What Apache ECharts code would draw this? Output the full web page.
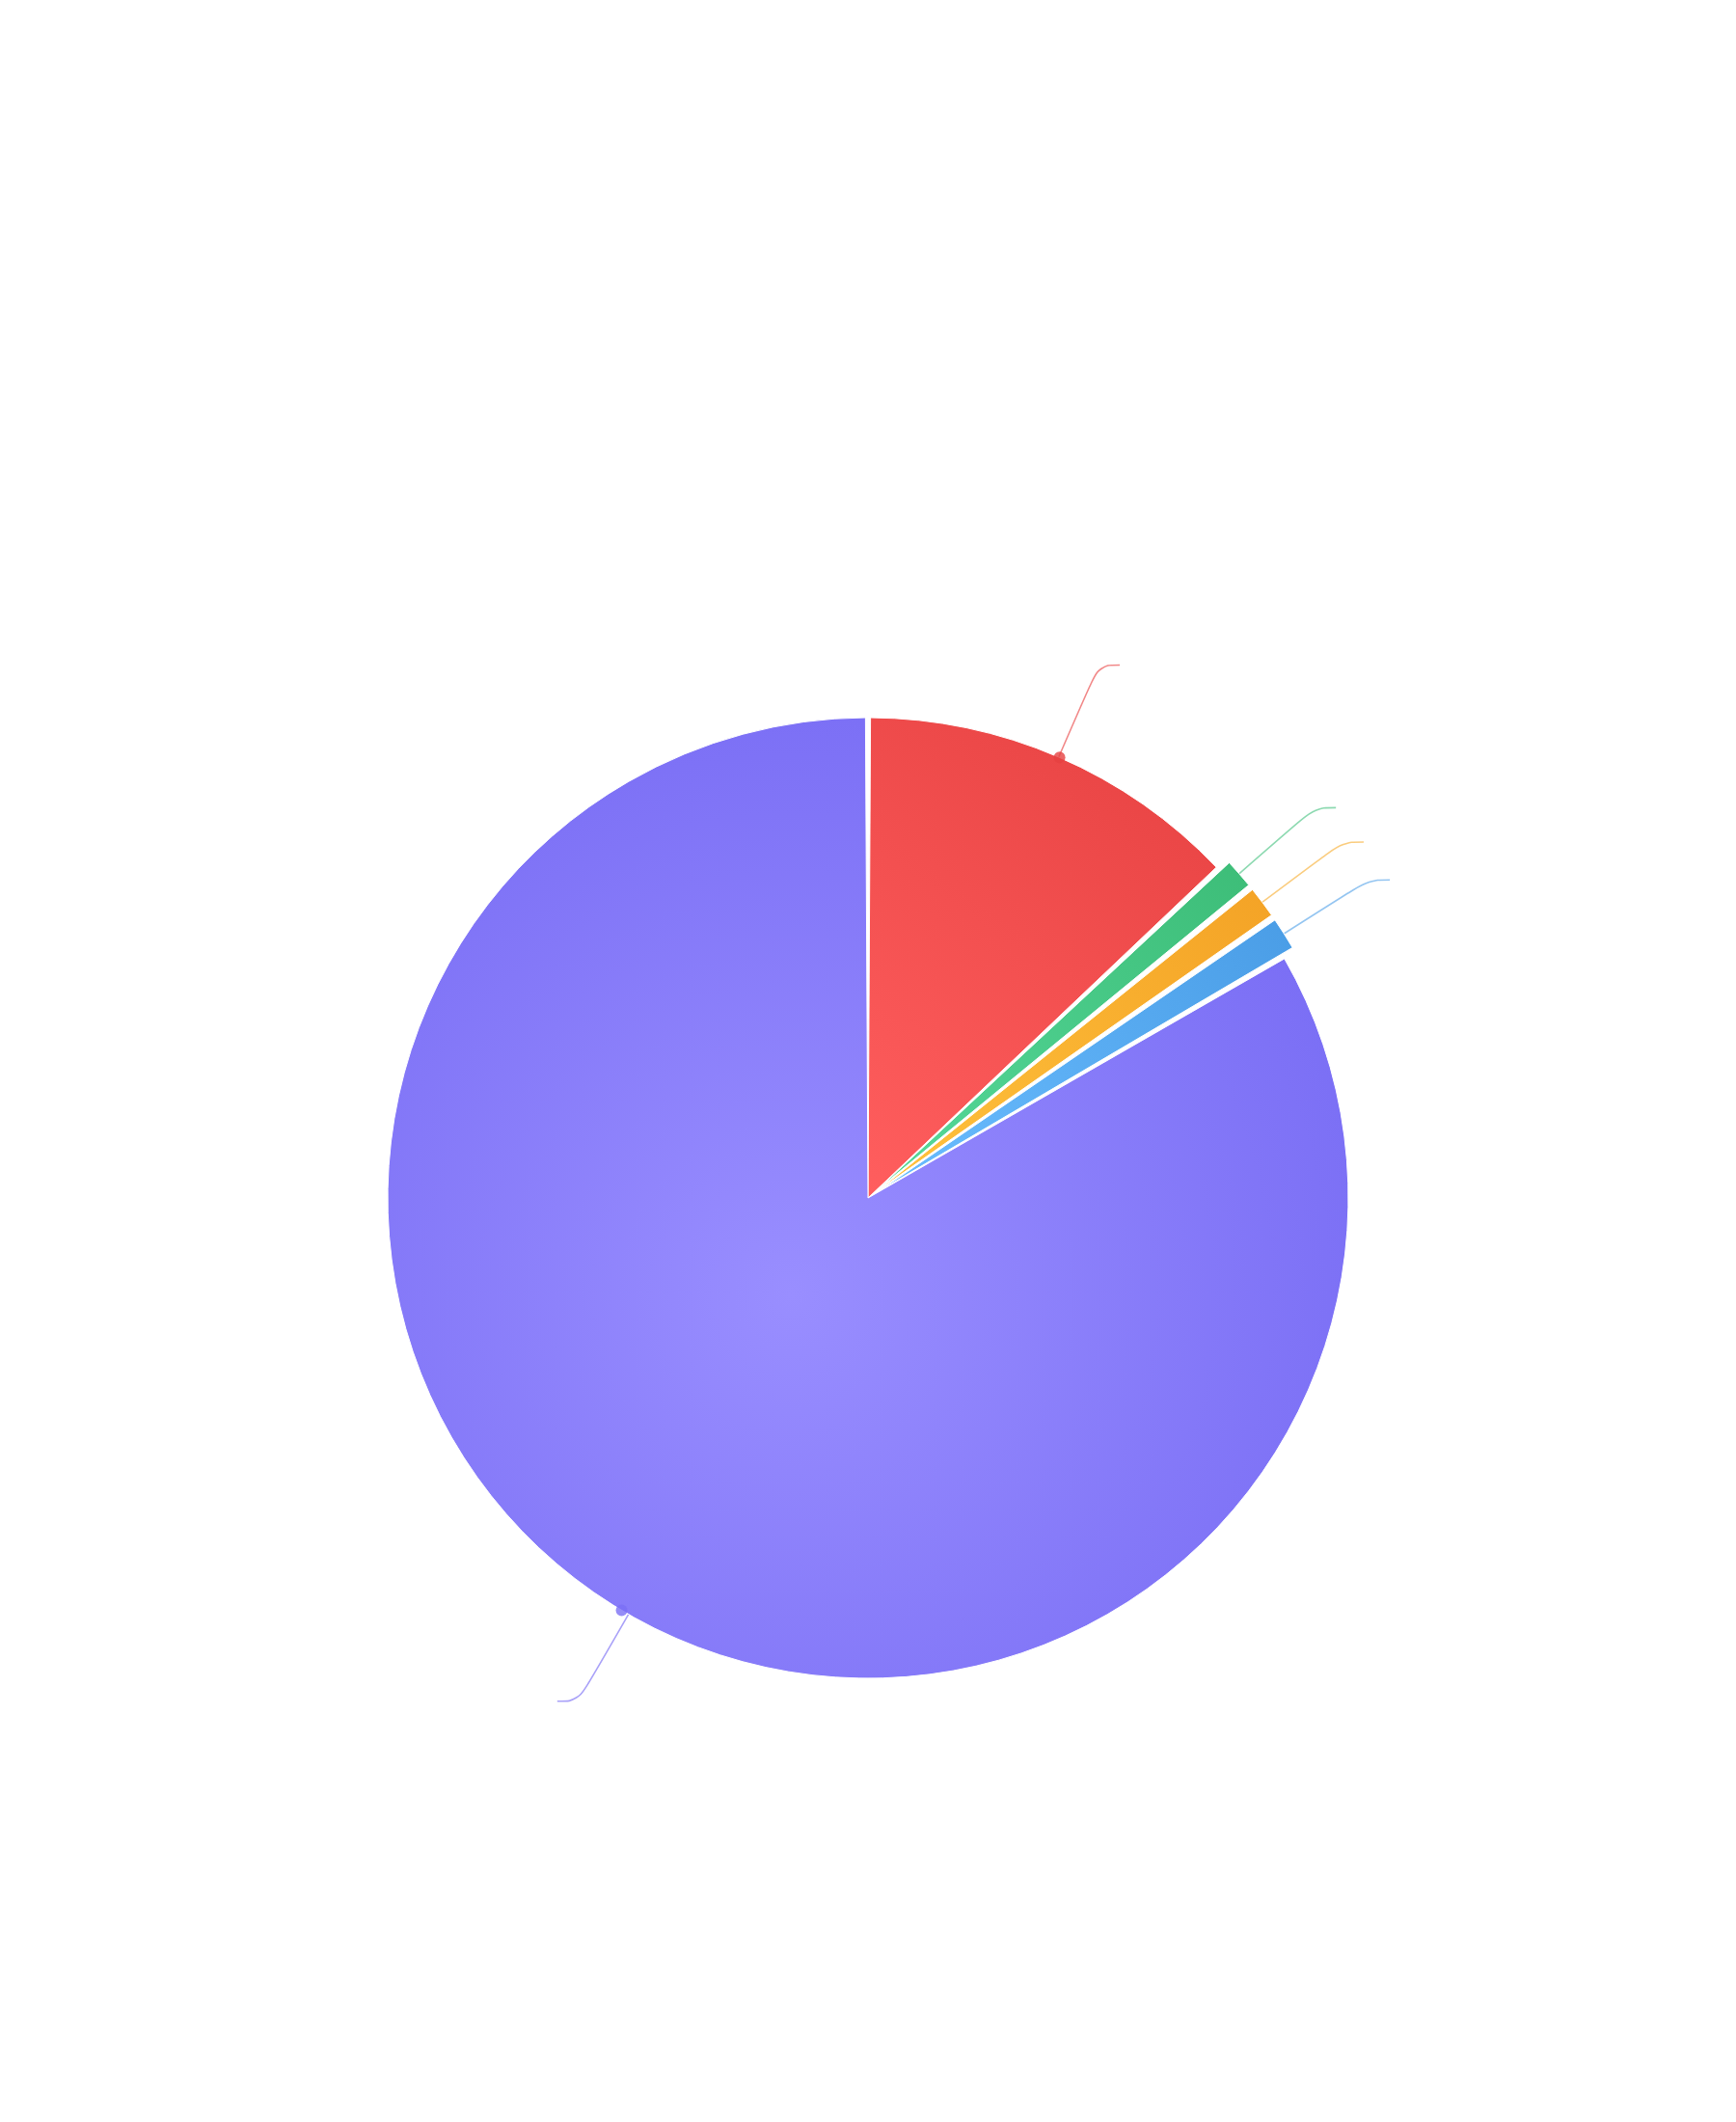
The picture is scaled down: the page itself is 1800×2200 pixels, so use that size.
<!DOCTYPE html>
<html>
<head>
<meta charset="utf-8">
<script src="https://cdn.jsdelivr.net/npm/echarts@6/dist/echarts.min.js"></script>
<style>
  html, body { margin: 0; padding: 0; background: #fff; }
  #chart { width: 1800px; height: 2200px; }
</style>
</head>
<body>
<div id="chart"></div>
<script>
// slices, clockwise from 12 o'clock
const categories = ['Category A', 'Category B', 'Category C', 'Category D', 'Category E']
const values = [130, 11.5, 12.2, 12.5, 834]
const raised = ['Category B', 'Category C', 'Category D']

const lightColors = ['#ff5e5e', '#56d99a', '#ffc23d', '#6abdff', '#998eff']
const darkColors = ['#e64141', '#3dbd78', '#f4a326', '#4a9de6', '#7b6ff5']
const lineColors = ['rgba(234,70,70,0.65)', 'rgba(64,192,124,0.6)', 'rgba(246,170,40,0.6)', 'rgba(76,158,232,0.6)', 'rgba(123,111,245,0.65)']

const radius = 498
const offset = 13
const padAngle = 0.6
const center = ['50%', 1242]

var myChart = echarts.init(document.getElementById('chart'))

const pieData = categories.map((name, i) => {
    const fill = i === 4
        ? { type: 'radial', x: 0.42, y: 0.6, r: 0.62,
            colorStops: [{ offset: 0, color: lightColors[i] }, { offset: 1, color: darkColors[i] }] }
        : { type: 'linear', x: 0, y: 1, x2: 1, y2: 0,
            colorStops: [{ offset: 0, color: lightColors[i] }, { offset: 1, color: darkColors[i] }] }
    return {
        name: name,
        value: values[i],
        selected: raised.includes(name),
        itemStyle: { color: fill },
        labelLine: { lineStyle: { color: lineColors[i] } }
    }
})

// dots where each label line leaves its slice
const sum = values.reduce((a, b) => a + b, 0)
const usable = 360 - padAngle * values.length
let acc = 0
const dotData = values.map((v, i) => {
    const mid = padAngle / 2 + i * padAngle + (acc + v / 2) * usable / sum
    acc += v
    const r = radius + (raised.includes(categories[i]) ? offset : 0)
    return { value: [r, mid], itemStyle: { color: darkColors[i] } }
})

const option = {
    animation: false,
    polar: { center: center, radius: radius },
    angleAxis: { type: 'value', min: 0, max: 360, startAngle: 90, clockwise: true, show: false },
    radiusAxis: { type: 'value', min: 0, max: radius, show: false },
    series: [
        {
            type: 'pie',
            center: center,
            radius: radius,
            startAngle: 90,
            clockwise: true,
            padAngle: padAngle,
            selectedMode: 'multiple',
            selectedOffset: offset,
            avoidLabelOverlap: false,
            itemStyle: { borderColor: '#fff', borderWidth: 1 },
            select: { itemStyle: { borderColor: '#fff', borderWidth: 1 } },
            emphasis: { disabled: true },
            label: { show: true, position: 'outside', formatter: ' ', fontSize: 12 },
            labelLine: { show: true, length: 104, length2: 22, smooth: 0.4, lineStyle: { width: 1.6 } },
            data: pieData,
            z: 2
        },
        {
            type: 'scatter',
            coordinateSystem: 'polar',
            symbol: 'circle',
            symbolSize: 12,
            silent: true,
            data: dotData,
            z: 3
        }
    ]
}
myChart.setOption(option)
</script>
</body>
</html>
